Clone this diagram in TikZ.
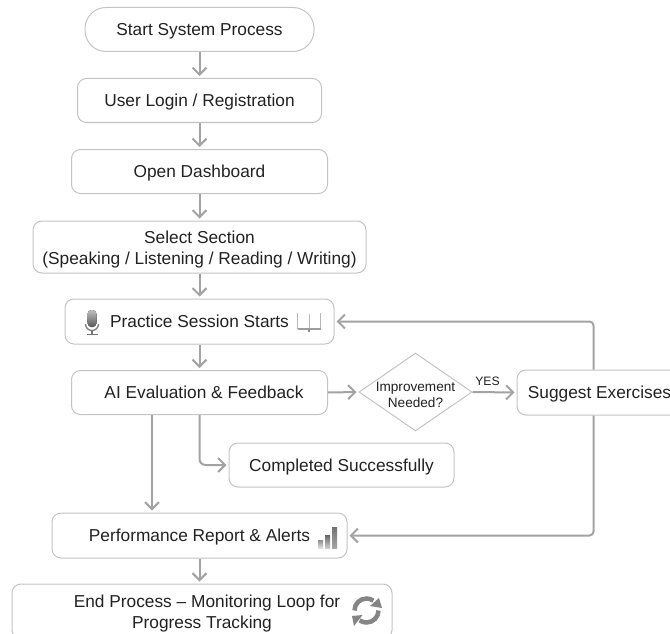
\documentclass[tikz,border=0pt]{standalone}
\usepackage{fontspec}
\setmainfont{Liberation Sans}
\usetikzlibrary{arrows.meta,shapes.geometric,calc}
\definecolor{edge}{HTML}{C4C4C4}
\definecolor{link}{HTML}{A3A3A3}
\definecolor{ink}{HTML}{222222}
\tikzset{
  flowbox/.style={draw=edge,line width=1pt,fill=white,rounded corners=9pt,text=ink,font=\fontsize{17.3}{21}\selectfont,align=center,inner sep=0pt,minimum height=#1},
  flowbox/.default=44pt,
  oneline/.style={text height=16pt,text depth=3.5pt},
  link/.style={draw=link,line width=2pt,-{Straight Barb[length=7pt,width=14pt,line width=2pt]},shorten >=2pt},
  icon/.style={y=1pt},
}
\begin{document}
\begin{tikzpicture}[x=1pt,y=-1pt]
\useasboundingbox (0,0) rectangle (670,634);
\clip (0,0) rectangle (670,634);
\fill[white] (0,0) rectangle (670,634);
\node[flowbox,oneline,rounded corners=21pt,minimum width=229pt] (start) at (199.5,29.5) {Start System Process};
\node[flowbox,oneline,minimum width=244pt] (login) at (199.5,100.5) {User Login / Registration};
\node[flowbox,oneline,minimum width=256pt] (dash) at (199.5,171.5) {Open Dashboard};
\node[flowbox=52pt,minimum width=333pt] (select) at (199.5,247) {\rule{0pt}{18pt}Select Section\\(Speaking / Listening / Reading / Writing)};
\node[flowbox=45pt,oneline,minimum width=269pt] (practice) at (199.5,321.5) {Practice Session Starts};
\node[flowbox,oneline,minimum width=256pt] (ai) at (199.5,392.5) {\hspace{9pt}AI Evaluation \& Feedback};
\node[diamond,draw=edge,line width=1pt,fill=white,minimum width=113pt,minimum height=78pt,inner sep=0pt,
  label={[yshift=-3pt,text=ink,align=center,font=\fontsize{13.6}{16}\selectfont]center:Improvement\\Needed?}] (need) at (415.5,392) {};
\node[flowbox=45pt,oneline,minimum width=165pt] (suggest) at (599.5,392.5) {Suggest Exercises};
\node[flowbox,oneline,minimum width=225pt] (done) at (341.5,465) {Completed Successfully};
\node[flowbox=45pt,oneline,minimum width=295pt] (report) at (199.5,535.5) {Performance Report \& Alerts};
\node[flowbox=55pt,minimum width=380pt] (finish) at (202,611.5) {\rule{0pt}{16pt}\hspace{10pt}End Process – Monitoring Loop for\\Progress Tracking};
\draw[link] (start.south) -- (login.north);
\draw[link] (login.south) -- (dash.north);
\draw[link] (dash.south) -- (select.north);
\draw[link] (select.south) -- (practice.north);
\draw[link] (practice.south) -- (ai.north);
\draw[link] (ai.east) -- (need.west);
\draw[link] (need.east) -- node[above=2pt,xshift=-7pt,text=ink,font=\fontsize{12.2}{14}\selectfont]{YES} (suggest.west);
\draw[link,rounded corners=6pt] (ai.south) |- (done.west);
\draw[link] ([xshift=-47.5pt]ai.south) -- ([xshift=-47.5pt]ai.south |- report.north);
\draw[link,rounded corners=4pt] ([xshift=-6pt]suggest.north) |- (practice.east);
\draw[link,rounded corners=4pt] ([xshift=-6pt]suggest.south) |- (report.east);
\draw[link] (report.south) -- (report.south |- finish.north);
% microphone
\begin{scope}[shift={(92,322)},icon]
\fill[top color=black!25,bottom color=black!65,rounded corners=4pt] (-4.5,12) rectangle (4.5,-5);
\draw[black!50,line width=1.3pt] (-6.5,-2) arc[start angle=180,end angle=360,radius=6.5];
\draw[black!55,line width=1.5pt] (0,-8.5) -- (0,-12) (-5.5,-12.5) -- (5.5,-12.5);
\end{scope}
% book
\begin{scope}[shift={(309,322)},icon]
\draw[black!28,line width=1pt] (-11.5,9) -- (-11.5,-7) (0,8) -- (0,-7) (11.5,9) -- (11.5,-7);
\draw[black!38,line width=2pt] (-11.5,-7) -- (11.5,-7);
\draw[black!45,line width=1.4pt] (0,-7) -- (0,-10);
\end{scope}
% bars
\fill[bottom color=black!12,top color=black!45] (318,540) rectangle (323,548);
\fill[bottom color=black!20,top color=black!60] (325,535) rectangle (330,548);
\fill[bottom color=black!35,top color=black!55] (332,527) rectangle (337,548);
% sync
\begin{scope}[shift={(366.5,610.5)},icon]
\draw[black!48,line width=4.5pt] (-12,0) arc[start angle=180,end angle=55,radius=12];
\fill[black!48] (12.5,12.5) -- (15.5,2.5) -- (3.5,4.5) -- cycle;
\draw[black!48,line width=4.5pt] (12,0) arc[start angle=0,end angle=-125,radius=12];
\fill[black!48] (-14.5,-5.5) -- (-4,-4.5) -- (-12.5,-15.5) -- cycle;
\end{scope}
\end{tikzpicture}
\end{document}
